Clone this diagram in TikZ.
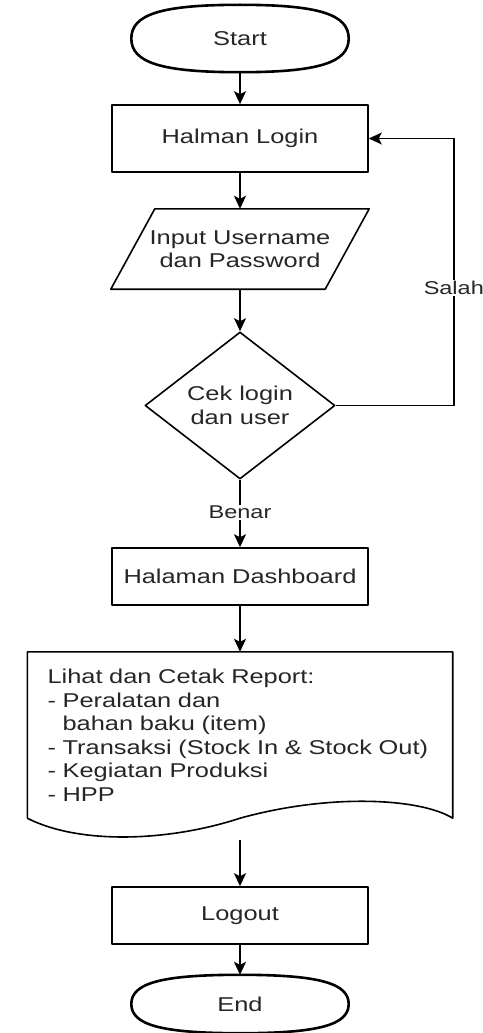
\documentclass[tikz,border=0pt]{standalone}
\usepackage{fontspec}
\setmainfont{Liberation Sans}[FakeStretch=1.27]
\usetikzlibrary{arrows.meta,calc,shapes.geometric}

\begin{document}
\begin{tikzpicture}[
        x=1pt, y=-1pt,
        every node/.style={text=black!85, font=\fontsize{20}{23.5}\selectfont},
        line/.style={draw=black, line width=1.6pt, line join=round},
        termline/.style={draw=black, line width=2.6pt, line join=round},
        term/.style={minimum width=217pt, minimum height=67pt, inner sep=0pt},
        box/.style={line, minimum width=256pt, minimum height=57pt, inner sep=0pt},
        io/.style={minimum width=258pt, minimum height=80pt, inner sep=0pt, align=center},
        dec/.style={diamond, line, minimum width=190pt, minimum height=147pt,
            inner sep=0pt, shape aspect=1.3, align=center},
        doc/.style={text width=385pt, inner xsep=20pt, inner ysep=0pt,
            minimum height=166pt, align=left},
        arr/.style={line width=1.6pt, -{Stealth[length=13pt,width=12pt,inset=3pt]}},
        lbl/.style={fill=white, inner sep=1pt, font=\fontsize{18.5}{22}\selectfont},
    ]
    \useasboundingbox[fill=white] (0,0) rectangle (482,1033);

    % nodes
    \node[term] (start) at (240,38.5) {Start};
    \node[box, minimum height=67pt] (login) at (240,138.5) {Halman Login};
    \node[io] (inp) at (240,249) {Input Username\\dan Password};
    \node[dec] (chk) at (240,405.5) {Cek login\\dan user};
    \node[box] (dash) at (240,576.5) {Halaman Dashboard};
    \node[doc] (rep) at (240,735) {Lihat dan Cetak Report:\\- Peralatan dan\\\hphantom{- }bahan baku (item)\\- Transaksi (Stock In \& Stock Out)\\- Kegiatan Produksi\\- HPP};
    \node[box] (out) at (240,915.5) {Logout};
    \node[term, minimum height=58pt] (stop) at (240,1004) {End};

    % terminator outlines
    \foreach \t in {start,stop} {
        \draw[termline] (\t.west)
            .. controls ($(\t.west)!0.72!(\t.north west)$) and ($(\t.north)!0.72!(\t.north west)$) .. (\t.north)
            .. controls ($(\t.north)!0.72!(\t.north east)$) and ($(\t.east)!0.72!(\t.north east)$) .. (\t.east)
            .. controls ($(\t.east)!0.72!(\t.south east)$) and ($(\t.south)!0.72!(\t.south east)$) .. (\t.south)
            .. controls ($(\t.south)!0.72!(\t.south west)$) and ($(\t.west)!0.72!(\t.south west)$) .. (\t.west) -- cycle;
    }
    % input parallelogram
    \draw[line] ($(inp.north west)+(44,0)$) -- (inp.north east)
        -- ($(inp.south east)+(-44,0)$) -- (inp.south west) -- cycle;
    % document shape
    \draw[line] (rep.south west) -- (rep.north west) -- (rep.north east) -- (rep.south east)
        .. controls +(-32,-20) and +(90,-25) .. (rep.south)
        .. controls +(-70,23) and +(53,27) .. (rep.south west);

    % connectors
    \draw[arr] (start) -- (login);
    \draw[arr] (login) -- (inp);
    \draw[arr] (inp) -- (chk);
    \draw[arr] (chk) -- node[lbl, pos=0.48] {Benar} (dash);
    \draw[arr] (chk.east) -- ++(118,0) |- node[lbl, pos=0.22] {Salah} (login.east);
    \draw[arr] (dash) -- (rep);
    \draw[arr] ([yshift=-22pt]rep.south) -- (out);
    \draw[arr] (out) -- (stop);
\end{tikzpicture}
\end{document}
